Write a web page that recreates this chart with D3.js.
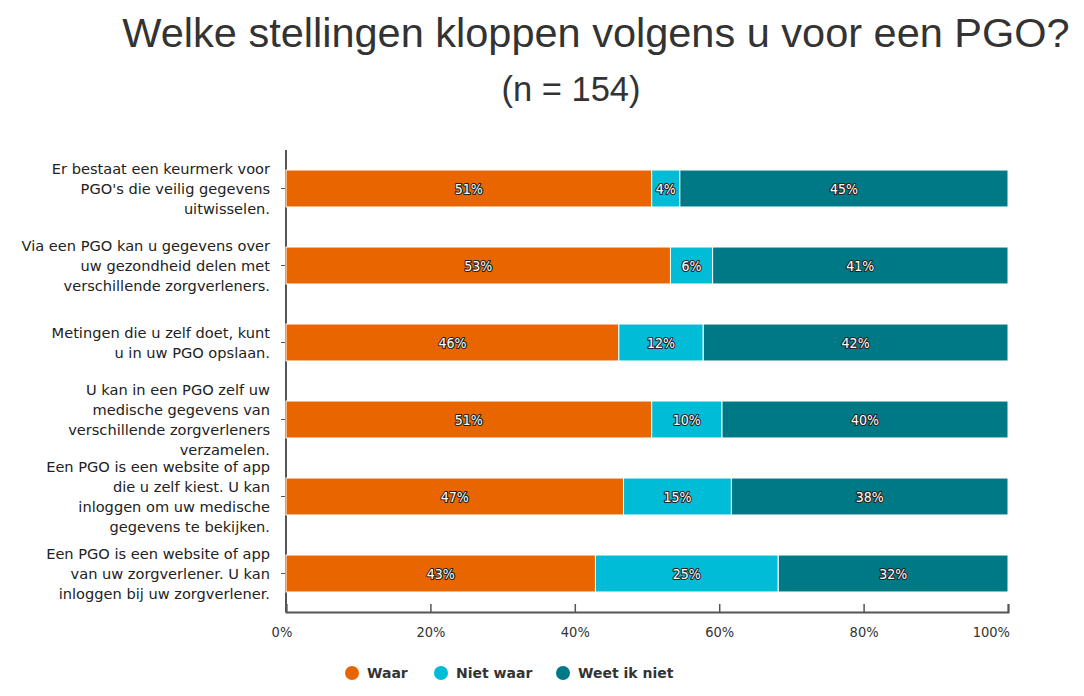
<!DOCTYPE html>
<html><head><meta charset="utf-8">
<script src="https://cdn.jsdelivr.net/npm/d3@7"></script>
<style>body{margin:0;background:#fff}</style>
</head><body>
<svg id="chart" width="1084" height="696"></svg>
<script>
const categories = [
  "Er bestaat een keurmerk voor\nPGO's die veilig gegevens\nuitwisselen.",
  "Via een PGO kan u gegevens over\nuw gezondheid delen met\nverschillende zorgverleners.",
  "Metingen die u zelf doet, kunt\nu in uw PGO opslaan.",
  "U kan in een PGO zelf uw\nmedische gegevens van\nverschillende zorgverleners\nverzamelen.",
  "Een PGO is een website of app\ndie u zelf kiest. U kan\ninloggen om uw medische\ngegevens te bekijken.",
  "Een PGO is een website of app\nvan uw zorgverlener. U kan\ninloggen bij uw zorgverlener."
];
const seriesNames = ["Waar", "Niet waar", "Weet ik niet"];
const waar      = [50.65, 53.25, 46.10, 50.65, 46.75, 42.86];
const nietWaar  = [3.90, 5.84, 11.69, 9.74, 14.94, 25.32];
const weetIkNiet= [45.45, 40.91, 42.21, 39.61, 38.31, 31.82];
const xTicks = [0, 20, 40, 60, 80, 100];
const colors = ["#e86500", "#00bcd6", "#007987"];

const svg = d3.select("#chart");
const M = {left: 286, right: 1008, top: 150, bottom: 612};

svg.append("text").attr("x", 596).attr("y", 47).attr("text-anchor", "middle")
  .attr("font-family", "Liberation Sans, Arial, sans-serif").attr("font-size", 41.5).attr("fill", "#333")
  .text("Welke stellingen kloppen volgens u voor een PGO?");
svg.append("text").attr("x", 571).attr("y", 101).attr("text-anchor", "middle")
  .attr("font-family", "Liberation Sans, Arial, sans-serif").attr("font-size", 34.5).attr("fill", "#333")
  .text("(n = 154)");

const x = d3.scaleLinear().domain([0, 100]).range([M.left, M.right]);
const y = d3.scaleBand().domain(d3.range(categories.length)).range([M.top, M.bottom]).paddingInner(0.52).paddingOuter(0.26);

const rows = categories.map((c, i) => ({i, Waar: waar[i], "Niet waar": nietWaar[i], "Weet ik niet": weetIkNiet[i]}));
const stack = d3.stack().keys(seriesNames)(rows);

// y axis line
svg.append("line").attr("x1", M.left).attr("x2", M.left).attr("y1", M.top).attr("y2", M.bottom)
  .attr("stroke", "#555").attr("stroke-width", 2);
// y ticks at category centers
svg.append("g").selectAll("line").data(d3.range(categories.length)).join("line")
  .attr("x1", M.left - 5).attr("x2", M.left).attr("y1", d => y(d) + y.bandwidth()/2).attr("y2", d => y(d) + y.bandwidth()/2)
  .attr("stroke", "#555").attr("stroke-width", 1);

// category labels
const lab = svg.append("g").selectAll("text").data(categories).join("text")
  .attr("text-anchor", "end").attr("font-family", "DejaVu Sans, Verdana, sans-serif").attr("font-size", 14.6).attr("fill", "#222");
lab.each(function(c, i) {
  const lines = c.split("\n");
  const lh = 19.8;
  const cy = y(i) + y.bandwidth()/2;
  d3.select(this).selectAll("tspan").data(lines).join("tspan")
    .attr("x", 270).attr("y", (d, k) => cy + (k - (lines.length - 1)/2) * lh + 5.3).text(d => d);
});

// bars
const g = svg.append("g");
stack.forEach((s, si) => {
  g.append("g").selectAll("rect").data(s).join("rect")
    .attr("x", d => x(d[0])).attr("width", d => x(d[1]) - x(d[0]))
    .attr("y", (d, i) => y(i)).attr("height", y.bandwidth())
    .attr("fill", colors[si]).attr("stroke", "#fff").attr("stroke-width", 1);
});
// bar labels
stack.forEach((s, si) => {
  g.append("g").selectAll("text").data(s).join("text")
    .attr("x", d => (x(d[0]) + x(d[1]))/2).attr("y", (d, i) => y(i) + y.bandwidth()/2 + 5)
    .attr("text-anchor", "middle").attr("font-family", "DejaVu Sans Condensed, DejaVu Sans, sans-serif")
    .attr("font-size", 14).attr("fill", "#fff")
    .attr("stroke", "#222").attr("stroke-width", 2.2).attr("stroke-linejoin", "round").attr("paint-order", "stroke")
    .text(d => Math.round(d[1] - d[0]) + "%");
});

// x axis
const xa = svg.append("g").attr("transform", `translate(0,${M.bottom})`)
  .call(d3.axisBottom(x).tickValues(xTicks).tickFormat(d => d + "%").tickSize(-8).tickPadding(12));
xa.select(".domain").attr("stroke", "#555").attr("stroke-width", 2);
xa.selectAll(".tick line").attr("stroke", "#555").attr("stroke-width", 1.5);
xa.selectAll(".tick text").attr("font-family", "DejaVu Sans Condensed, DejaVu Sans, sans-serif").attr("font-size", 14.5).attr("fill", "#333")
  .attr("dy", "0.9em");
xa.selectAll(".tick text").filter(d => d === 0).attr("text-anchor", "end").attr("dx", "0.4em");
xa.selectAll(".tick text").filter(d => d === 100).attr("text-anchor", "end").attr("dx", "0.1em");

// legend
const legX = [352, 441, 563];
const leg = svg.append("g").selectAll("g").data(seriesNames).join("g")
  .attr("transform", (d, i) => `translate(${legX[i]},673)`);
leg.append("circle").attr("r", 7).attr("fill", (d, i) => colors[i]);
leg.append("text").attr("x", 15).attr("y", 5).attr("font-family", "DejaVu Sans, Verdana, sans-serif")
  .attr("font-size", 14).attr("font-weight", "bold").attr("fill", "#333").text(d => d);
</script>
</body></html>
